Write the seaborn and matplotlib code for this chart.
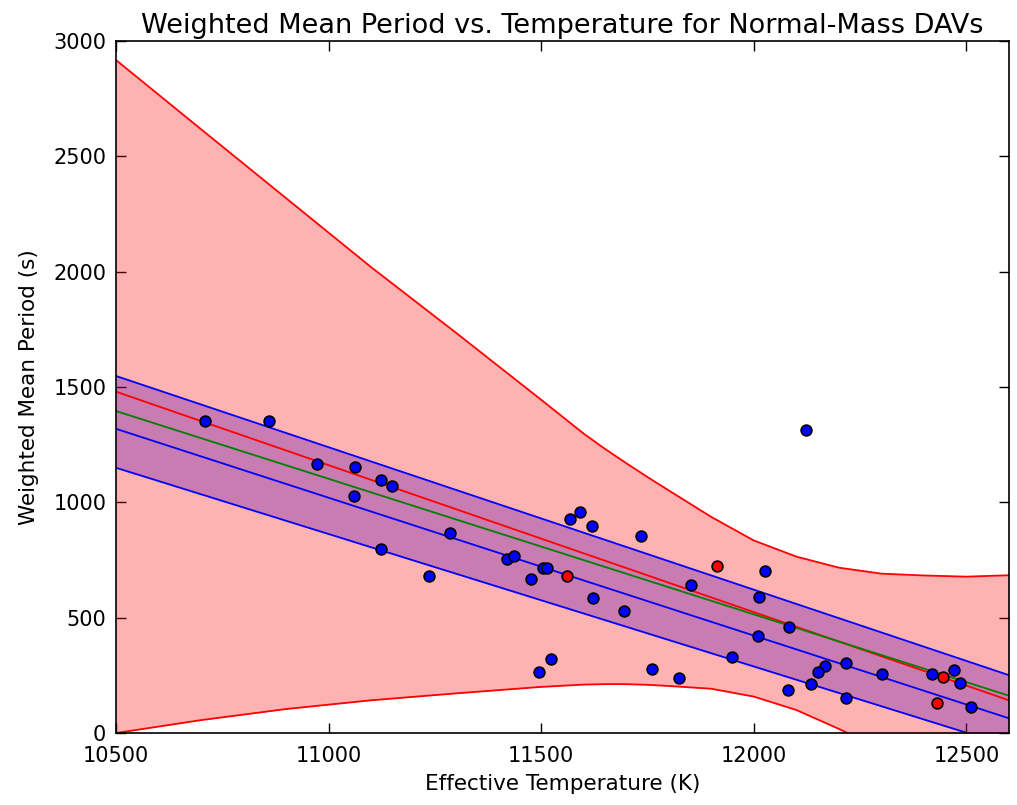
import numpy as np
import pandas as pd
import matplotlib
matplotlib.use("Agg")
import matplotlib.pyplot as plt
import seaborn as sns

# DAV data: effective temperature (K) and weighted mean period (s)
teff_main = [10709, 10861, 10973, 11062, 11123, 11150, 11059, 11285, 11123, 11236,
             11419, 11435, 11504, 11514, 11475, 11568, 11592, 11619, 11736, 11853,
             11622, 11696, 11524, 11496, 11761, 11825, 11949, 12122, 12027, 12013,
             12084, 12010, 12217, 12167, 12152, 12135, 12081, 12217, 12302, 12420,
             12472, 12485, 12510]
wmp_main = [1354, 1354, 1166, 1155, 1098, 1072, 1029, 867, 798, 679,
            754, 766, 717, 717, 668, 928, 960, 898, 853, 640,
            585, 529, 322, 266, 277, 240, 330, 1315, 702, 591,
            460, 422, 304, 292, 266, 211, 185, 153, 254, 254,
            275, 215, 111]

teff_red = [11561, 11913, 12444, 12431]
wmp_red = [679, 723, 241, 130]

# fit lines, values at the two ends of the x range
line_x = [10500, 12600]
fit_red = [1480, 142]
fit_green = [1396, 162]
blue_upper = [1548, 251]
blue_mid = [1319, 64]
blue_lower = [1150, -56]

# prediction band (red envelope)
band_x = [10500, 10700, 10900, 11100, 11300, 11500, 11600, 11650, 11700, 11750,
          11800, 11900, 12000, 12100, 12200, 12300, 12400, 12500, 12600]
band_upper = [2918, 2618, 2319, 2020, 1735, 1445, 1298, 1232, 1170, 1110,
              1052, 937, 835, 765, 717, 691, 683, 678, 684]
band_lower = [0, 56, 104, 142, 172, 200, 210, 212, 212, 209,
              204, 192, 158, 100, 18, -70, -160, -250, -340]

sns.set_style("white", {
    "xtick.direction": "in", "ytick.direction": "in",
    "xtick.top": True, "ytick.right": True,
    "xtick.bottom": True, "ytick.left": True,
    "axes.edgecolor": "black",
    "text.color": "black", "axes.labelcolor": "black",
    "xtick.color": "black", "ytick.color": "black",
})
plt.rcParams["font.family"] = ["DejaVu Sans"]

fig = plt.figure(figsize=(10.17, 8.05), dpi=100)
ax = fig.add_axes([0.114, 0.0894, 0.878, 0.8596])

ax.fill_between(line_x, blue_lower, blue_upper, color="blue", alpha=0.3, linewidth=0)
ax.fill_between(band_x, band_lower, band_upper, color="red", alpha=0.3, linewidth=0)

ax.plot(band_x, band_upper, color="red", lw=1.3)
ax.plot(band_x, band_lower, color="red", lw=1.3)
ax.plot(line_x, blue_upper, color="blue", lw=1.3)
ax.plot(line_x, blue_mid, color="blue", lw=1.3)
ax.plot(line_x, blue_lower, color="blue", lw=1.3)
ax.plot(line_x, fit_red, color="red", lw=1.3)
ax.plot(line_x, fit_green, color="green", lw=1.3)

main_df = pd.DataFrame({"teff": teff_main, "wmp": wmp_main})
red_df = pd.DataFrame({"teff": teff_red, "wmp": wmp_red})
sns.scatterplot(data=main_df, x="teff", y="wmp", color="blue", edgecolor="black",
                s=60, linewidth=1.2, ax=ax, zorder=5)
sns.scatterplot(data=red_df, x="teff", y="wmp", color="red", edgecolor="black",
                s=60, linewidth=1.2, ax=ax, zorder=5)

ax.set_xlim(10500, 12600)
ax.set_ylim(0, 3000)
ax.set_xticks([10500, 11000, 11500, 12000, 12500])
ax.set_yticks([0, 500, 1000, 1500, 2000, 2500, 3000])
ax.tick_params(labelsize=15, length=7, width=1, color="black")
ax.tick_params(axis="x", pad=9)
ax.tick_params(axis="y", pad=7)
for sp in ax.spines.values():
    sp.set_linewidth(1.2)

ax.set_title("Weighted Mean Period vs. Temperature for Normal-Mass DAVs", fontsize=19.5)
ax.set_xlabel("Effective Temperature (K)", fontsize=15.5, labelpad=6)
ax.set_ylabel("Weighted Mean Period (s)", fontsize=15.5, labelpad=10)

fig.savefig("out.png", dpi=100)
